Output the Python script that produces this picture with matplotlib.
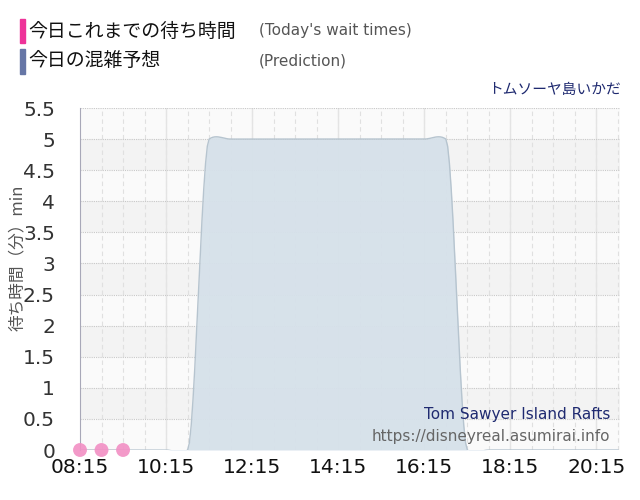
import matplotlib

matplotlib.use("Agg")
import matplotlib.pyplot as plt
import numpy as np
from matplotlib.patches import Rectangle

JP = ["Noto Sans CJK JP", "DejaVu Sans"]

# prediction every 30 minutes, hours as decimals
pred_hours = [8.25, 8.75, 9.25, 9.75, 10.25, 10.75, 11.25, 11.75, 12.25, 12.75,
              13.25, 13.75, 14.25, 14.75, 15.25, 15.75, 16.25, 16.75, 17.25,
              17.75, 18.25, 18.75, 19.25, 19.75, 20.25, 20.75]
pred_wait = [0, 0, 0, 0, 0, 0, 5, 5, 5, 5, 5, 5, 5, 5, 5, 5, 5, 5, 0,
             0, 0, 0, 0, 0, 0, 0]

# actual wait times so far
act_hours = [8.25, 8.75, 9.25]
act_wait = [0, 0, 0]

tick_hours = [8.25, 10.25, 12.25, 14.25, 16.25, 18.25, 20.25]
tick_labels = ["08:15", "10:15", "12:15", "14:15", "16:15", "18:15", "20:15"]


def smooth(x, y, n=12, tension=0.05):
    """Light cardinal-spline smoothing between points for drawing."""
    x = np.asarray(x, float)
    y = np.asarray(y, float)
    xs, ys = [], []
    for i in range(len(x) - 1):
        y0 = y[i - 1] if i > 0 else y[i]
        y3 = y[i + 2] if i + 2 < len(y) else y[i + 1]
        m1 = tension * (y[i + 1] - y0)
        m2 = tension * (y3 - y[i])
        t = np.linspace(0, 1, n, endpoint=False)
        h00 = 2 * t**3 - 3 * t**2 + 1
        h10 = t**3 - 2 * t**2 + t
        h01 = -2 * t**3 + 3 * t**2
        h11 = t**3 - t**2
        xs.append(x[i] + t * (x[i + 1] - x[i]))
        ys.append(h00 * y[i] + h10 * m1 + h01 * y[i + 1] + h11 * m2)
    xs.append([x[-1]])
    ys.append([y[-1]])
    return np.concatenate(xs), np.concatenate(ys)


fig = plt.figure(figsize=(6.4, 5.0), dpi=100)
ax = fig.add_axes([0.125, 0.1, 0.844, 0.684])

x0, x1 = 8.25, 20.8
ax.set_xlim(x0, x1)
ax.set_ylim(0, 5.5)

# alternating bands
for k in range(11):
    lo = k * 0.5
    col = "#fafafa" if k % 2 == 0 else "#f3f3f3"
    ax.axhspan(lo, lo + 0.5, color=col, zorder=0, lw=0)

# grid
for h in np.arange(8.75, x1, 0.5):
    ax.axvline(h, color="#e0e0e0", lw=0.8, ls=(0, (4, 3)), zorder=1)
for h in tick_hours[1:]:
    ax.axvline(h, color="#e4e4e4", lw=1.0, zorder=1)
for v in np.arange(0.5, 5.51, 0.5):
    ax.axhline(v, color="#c8c8c8", lw=0.8, ls=(0, (1, 1)), zorder=1)

sx, sy = smooth(pred_hours, pred_wait)
ax.fill_between(sx, sy, 0, color="#d6e1ea", alpha=0.95, zorder=2, lw=0)
ax.plot(sx, sy, color="#b6c4cf", lw=1.0, zorder=3)

ax.plot(act_hours, act_wait, color="#c0607f", lw=0.8, zorder=4)
ax.scatter(act_hours, act_wait, s=100, color="#f28fc4", alpha=0.9, zorder=5,
           edgecolors="none", clip_on=False)

ax.set_xticks(tick_hours)
ax.set_xticklabels(tick_labels, fontsize=14.5, color="#111111")
ax.set_yticks(np.arange(0, 5.51, 0.5))
ax.set_yticklabels(["0", "0.5", "1", "1.5", "2", "2.5", "3", "3.5", "4", "4.5",
                    "5", "5.5"], fontsize=14.5, color="#333333")
ax.tick_params(axis="both", length=0, pad=6)
ax.tick_params(axis="y", pad=18)
for side in ["top", "right", "bottom"]:
    ax.spines[side].set_visible(False)
ax.spines["left"].set_color("#a8a8b8")

fig.text(0.027, 0.484, "待ち時間（分）min", rotation=90, ha="center", va="center",
         fontsize=12, color="#555555", family=JP)

# legend
fig.patches.append(Rectangle((20 / 640, 1 - 43 / 500), 5 / 640, 24 / 500,
                             transform=fig.transFigure, color="#ee3399"))
fig.patches.append(Rectangle((20 / 640, 1 - 74 / 500), 5 / 640, 25 / 500,
                             transform=fig.transFigure, color="#6676a6"))
fig.text(28 / 640, 1 - 31 / 500, "今日これまでの待ち時間", fontsize=13.6, family=JP,
         color="#111111", va="center")
fig.text(28 / 640, 1 - 61 / 500, "今日の混雑予想", fontsize=13.6, family=JP,
         color="#111111", va="center")
fig.text(259 / 640, 1 - 31 / 500, "(Today's wait times)", fontsize=11,
         color="#555555", va="center")
fig.text(259 / 640, 1 - 61 / 500, "(Prediction)", fontsize=11,
         color="#555555", va="center")

fig.text(621 / 640, 1 - 90 / 500, "トムソーヤ島いかだ", fontsize=10.6, family=JP,
         color="#1f2a70", ha="right", va="center")

fig.text(610 / 640, 1 - 415 / 500, "Tom Sawyer Island Rafts", fontsize=11,
         color="#1f2a70", ha="right", va="center")
fig.text(610 / 640, 1 - 436 / 500, "https://disneyreal.asumirai.info", fontsize=11,
         color="#666666", ha="right", va="center")

fig.savefig("out.png", dpi=100)
